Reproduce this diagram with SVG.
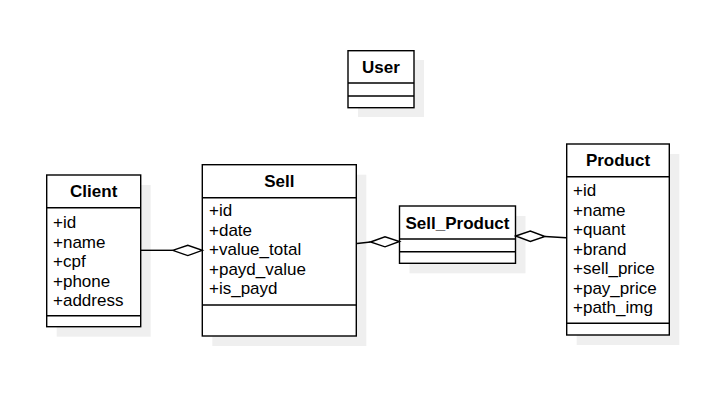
<svg xmlns="http://www.w3.org/2000/svg" width="714" height="403" viewBox="0 0 714 403">
<style>
.shadow{fill:#efefef;stroke:none}
.box{fill:#fff;stroke:#000;stroke-width:1.4}
.ln{stroke:#000;stroke-width:1.4;fill:none}
.title{font-family:"Liberation Sans",Arial,sans-serif;font-size:17px;font-weight:bold;text-anchor:middle;fill:#000}
.attr{font-family:"Liberation Sans",Arial,sans-serif;font-size:17px;fill:#000}
.dia{fill:#fff;stroke:#000;stroke-width:1.4;stroke-linejoin:miter}
</style>
<rect width="714" height="403" fill="#fff"/>
<g id="User">
<rect class="shadow" x="358" y="60" width="66" height="57"/>
<rect class="box" x="348" y="50.7" width="66" height="57"/>
<line class="ln" x1="348" y1="83" x2="414" y2="83"/>
<line class="ln" x1="348" y1="96" x2="414" y2="96"/>
<text class="title" x="381" y="73">User</text>
</g>
<g id="Client">
<rect class="shadow" x="56.7" y="185" width="94" height="151.7"/>
<rect class="box" x="46.7" y="175" width="94" height="151.7"/>
<line class="ln" x1="46.7" y1="207.7" x2="140.7" y2="207.7"/>
<line class="ln" x1="46.7" y1="315.7" x2="140.7" y2="315.7"/>
<text class="title" x="93.7" y="197">Client</text>
<text class="attr" x="53" y="228">+id</text>
<text class="attr" x="53" y="247.5">+name</text>
<text class="attr" x="53" y="267">+cpf</text>
<text class="attr" x="53" y="286.5">+phone</text>
<text class="attr" x="53" y="306">+address</text>
</g>
<g id="Sell">
<rect class="shadow" x="212.3" y="174.7" width="154" height="171.3"/>
<rect class="box" x="202.3" y="164.7" width="154" height="171.3"/>
<line class="ln" x1="202.3" y1="197.7" x2="356.3" y2="197.7"/>
<line class="ln" x1="202.3" y1="305" x2="356.3" y2="305"/>
<text class="title" x="279.3" y="187">Sell</text>
<text class="attr" x="209" y="216">+id</text>
<text class="attr" x="209" y="235.5">+date</text>
<text class="attr" x="209" y="255">+value_total</text>
<text class="attr" x="209" y="274.5">+payd_value</text>
<text class="attr" x="209" y="294">+is_payd</text>
</g>
<g id="Sell_Product">
<rect class="shadow" x="409.5" y="216" width="116" height="57.3"/>
<rect class="box" x="399.5" y="206" width="116" height="57.3"/>
<line class="ln" x1="399.5" y1="239" x2="515.5" y2="239"/>
<line class="ln" x1="399.5" y1="251.7" x2="515.5" y2="251.7"/>
<text class="title" x="457.5" y="228.5">Sell_Product</text>
</g>
<g id="Product">
<rect class="shadow" x="576.7" y="154" width="102.6" height="191"/>
<rect class="box" x="566.7" y="144" width="102.6" height="191"/>
<line class="ln" x1="566.7" y1="176.7" x2="669.3" y2="176.7"/>
<line class="ln" x1="566.7" y1="323.3" x2="669.3" y2="323.3"/>
<text class="title" x="618" y="166">Product</text>
<text class="attr" x="573" y="196">+id</text>
<text class="attr" x="573" y="215.5">+name</text>
<text class="attr" x="573" y="235">+quant</text>
<text class="attr" x="573" y="254.5">+brand</text>
<text class="attr" x="573" y="274">+sell_price</text>
<text class="attr" x="573" y="293.5">+pay_price</text>
<text class="attr" x="573" y="313">+path_img</text>
</g>
<g id="connectors">
<path class="ln" d="M141,250.3 L172.7,250.3"/>
<path class="dia" d="M172.7,250.3 L187.8,245.3 L202.3,250.3 L187.8,255.6 Z"/>
<path class="ln" d="M357,243.5 L370.5,242"/>
<path class="dia" d="M370.5,242 L385,236.8 L399.5,241.5 L385,246.8 Z"/>
<path class="dia" d="M515.7,236 L530.3,231 L545,236.5 L530.3,241.5 Z"/>
<path class="ln" d="M545,236.5 L566,237.7"/>
</g>
</svg>
